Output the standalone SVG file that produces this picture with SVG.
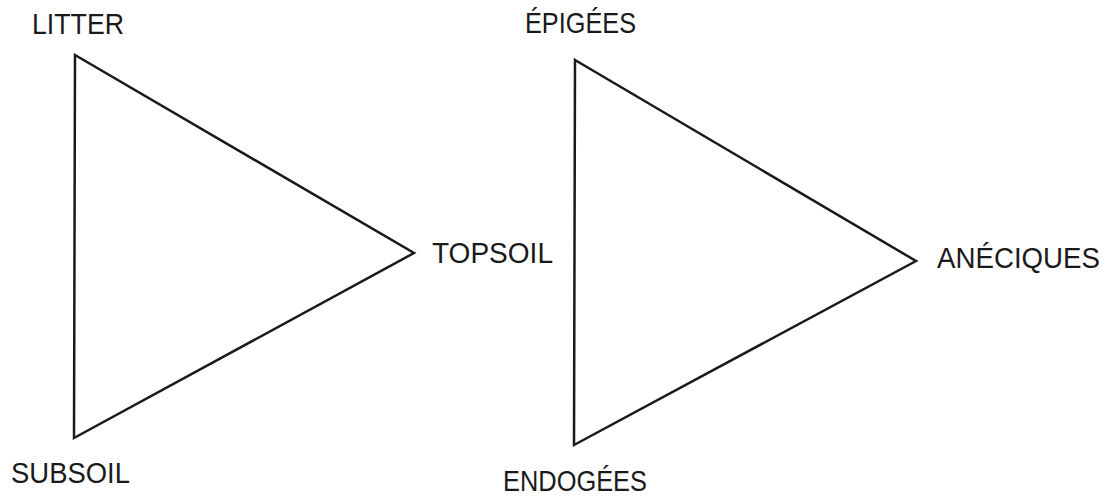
<svg xmlns="http://www.w3.org/2000/svg" width="1112" height="501" viewBox="0 0 1112 501">
<style>
.tri{fill:none;stroke:#1a1a1a;stroke-width:2.5;stroke-linejoin:miter}
.lbl{font-family:"Liberation Sans",Arial,sans-serif;font-size:29px;fill:#1a1a1a}
</style>
<rect width="1112" height="501" fill="#ffffff"/>
<g id="connectors">
<polygon class="tri" points="75,55 414,253 74,438"/>
<polygon class="tri" points="575,60 916,261 574,445"/>
</g>
<g id="litter"><text class="lbl" x="32" y="34" textLength="92" lengthAdjust="spacingAndGlyphs">LITTER</text></g>
<g id="topsoil"><text class="lbl" x="432" y="263" textLength="121" lengthAdjust="spacingAndGlyphs">TOPSOIL</text></g>
<g id="subsoil"><text class="lbl" x="11" y="483" textLength="119" lengthAdjust="spacingAndGlyphs">SUBSOIL</text></g>
<g id="epigees"><text class="lbl" x="525" y="33" textLength="111" lengthAdjust="spacingAndGlyphs">ÉPIGÉES</text></g>
<g id="aneciques"><text class="lbl" x="937" y="268" textLength="163" lengthAdjust="spacingAndGlyphs">ANÉCIQUES</text></g>
<g id="endogees"><text class="lbl" x="503" y="491" textLength="144" lengthAdjust="spacingAndGlyphs">ENDOGÉES</text></g>
</svg>
